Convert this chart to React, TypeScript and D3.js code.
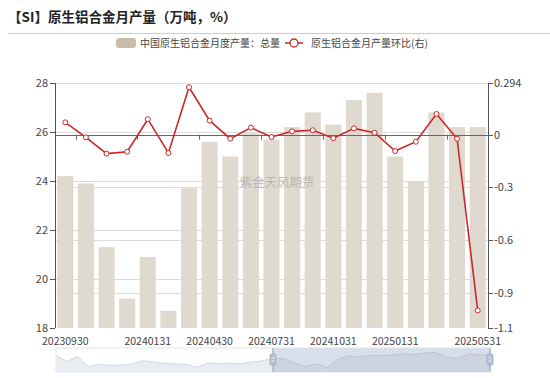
import React from "react";
import * as d3 from "d3";

const categories = [
  "20230930", "20231031", "20231130", "20231231", "20240131", "20240229", "20240331",
  "20240430", "20240531", "20240630", "20240731", "20240831", "20240930", "20241031",
  "20241130", "20241231", "20250131", "20250228", "20250331", "20250430", "20250531",
];
const outputTotal = [
  24.2, 23.9, 21.3, 19.2, 20.9, 18.7, 23.7, 25.6, 25.0, 25.95, 25.7,
  26.2, 26.8, 26.3, 27.3, 27.6, 25.0, 24.0, 26.8, 26.2, 26.2,
];
const momChange = [
  0.07, -0.015, -0.108, -0.097, 0.088, -0.104, 0.27, 0.08, -0.023, 0.04, -0.013,
  0.019, 0.025, -0.02, 0.036, 0.011, -0.093, -0.04, 0.118, -0.023, -1.0,
];
// earlier months, only visible in the zoom slider shadow
const earlierOutput = [
  25.7, 22.4, 25.1, 19.2, 20.6, 20.0, 20.2, 20.8, 22.7, 22.0,
  21.2, 20.8, 20.6, 18.8, 21.5, 21.0, 21.2, 20.8, 22.0, 22.6,
];
const leftTicks = [18, 20, 22, 24, 26, 28];
const rightTicks = [0.294, 0, -0.3, -0.6, -0.9, -1.1];
const rightGrid = [-0.3, -0.6, -0.9];
const shownLabelIdx = [0, 4, 7, 10, 13, 16, 20];
const tickBoundaryIdx = [1, 4, 7, 10, 13, 16, 19];

const FONT = "'Noto Sans CJK SC', 'Noto Sans', sans-serif";

export default function App() {
  const L = 55, R = 488, T = 83, B = 328;
  const x = d3.scaleBand<number>().domain(d3.range(categories.length)).range([L, R]).padding(0);
  const bw = x.bandwidth();
  const yL = d3.scaleLinear().domain([18, 28]).range([B, T]);
  const yR = d3.scaleLinear().domain([-1.1, 0.294]).range([B, T]);
  const cx = (i: number) => (x(i) as number) + bw / 2;
  const line = d3.line<number>().x((_, i) => cx(i)).y((d) => yR(d));

  // slider
  const full = [...earlierOutput, ...outputTotal];
  const sL = 56, sR = 490, sT = 348, sB = 372;
  const ext = d3.extent(full) as [number, number];
  const off = (ext[1] - ext[0]) * 0.3;
  const sx = d3.scaleLinear().domain([0, full.length - 1]).range([sL, sR]);
  const sy = d3.scaleLinear().domain([ext[0] - off, ext[1] + off]).range([sB, sT]);
  const selStart = earlierOutput.length;
  const area = d3.area<number>().x((_, i) => sx(i)).y0(sB).y1((d) => sy(d));
  const sline = d3.line<number>().x((_, i) => sx(i)).y((d) => sy(d));
  const leftPart = full.slice(0, selStart + 1);
  const rightPart = full.slice(selStart);
  const areaR = d3.area<number>().x((_, i) => sx(i + selStart)).y0(sB).y1((d) => sy(d));
  const slineR = d3.line<number>().x((_, i) => sx(i + selStart)).y((d) => sy(d));
  const hx = sx(selStart);

  return (
    <svg width={550} height={378} style={{ position: "absolute", left: 0, top: 0, fontFamily: FONT }}>
      <rect width={550} height={378} fill="#fff" />
      <text x={8} y={22} fontSize={13.5} fontWeight="bold" fill="#222">【SI】原生铝合金月产量（万吨，%）</text>
      <line x1={8} x2={550} y1={33.5} y2={33.5} stroke="#ccc" strokeWidth={1} />

      {/* legend */}
      <rect x={116} y={38} width={20} height={10} rx={3} fill="#c9bca8" />
      <text x={140} y={46.5} fontSize={10} fill="#444">中国原生铝合金月度产量：总量</text>
      <line x1={285} x2={303} y1={43} y2={43} stroke="#c8282a" strokeWidth={1.5} />
      <circle cx={294} cy={43} r={4} fill="#fff" stroke="#c8282a" strokeWidth={1.3} />
      <text x={311} y={46.5} fontSize={10} fill="#444">原生铝合金月产量环比(右)</text>

      {/* grid */}
      {leftTicks.filter((t) => t > 18).map((t) => (
        <line key={"gl" + t} x1={L} x2={R} y1={Math.round(yL(t)) + 0.5} y2={Math.round(yL(t)) + 0.5} stroke="#dcdcdc" />
      ))}
      {rightGrid.map((t) => (
        <line key={"gr" + t} x1={L} x2={R} y1={Math.round(yR(t)) + 0.5} y2={Math.round(yR(t)) + 0.5} stroke="#dcdcdc" />
      ))}

      {/* bars */}
      {outputTotal.map((v, i) => (
        <rect key={"b" + i} x={(x(i) as number) + bw * 0.11} width={bw * 0.78} y={yL(v)} height={B - yL(v)} fill="#e0d9cf" />
      ))}

      <text x={277} y={187} fontSize={12.5} fill="#aaa" fillOpacity={0.75} textAnchor="middle">紫金天风期货</text>

      {/* zero axis line */}
      <line x1={L} x2={R} y1={Math.round(yR(0)) + 0.5} y2={Math.round(yR(0)) + 0.5} stroke="#666" strokeWidth={1} />
      {tickBoundaryIdx.map((i) => (
        <line key={"xt" + i} x1={Math.round(x(i) as number) + 0.5} x2={Math.round(x(i) as number) + 0.5} y1={yR(0)} y2={yR(0) + 5} stroke="#666" />
      ))}

      {/* line series */}
      <path d={line(momChange) || ""} fill="none" stroke="#c8282a" strokeWidth={1.6} />
      {momChange.map((v, i) => (
        <circle key={"c" + i} cx={cx(i)} cy={yR(v)} r={2.5} fill="#fff" stroke="#c8282a" strokeWidth={1} />
      ))}

      {/* left axis */}
      <line x1={L + 0.5} x2={L + 0.5} y1={T} y2={B} stroke="#555" />
      {leftTicks.map((t) => (
        <g key={"lt" + t}>
          <line x1={L - 5} x2={L} y1={Math.round(yL(t)) + 0.5} y2={Math.round(yL(t)) + 0.5} stroke="#555" />
          <text x={L - 7} y={yL(t)} dy="0.35em" fontSize={11} fill="#444" textAnchor="end">{t}</text>
        </g>
      ))}
      {/* right axis */}
      <line x1={R + 0.5} x2={R + 0.5} y1={T} y2={B} stroke="#555" />
      {rightTicks.map((t) => (
        <g key={"rt" + t}>
          <line x1={R} x2={R + 5} y1={Math.round(yR(t)) + 0.5} y2={Math.round(yR(t)) + 0.5} stroke="#555" />
          <text x={R + 6} y={yR(t)} dy="0.35em" fontSize={11} fill="#444">{t}</text>
        </g>
      ))}
      {/* x labels */}
      {shownLabelIdx.map((i) => (
        <text key={"xl" + i} x={cx(i)} y={344.5} fontSize={10.5} fill="#444" textAnchor="middle">{categories[i]}</text>
      ))}

      {/* slider */}
      <rect x={sL} y={sT} width={sR - sL} height={sB - sT} fill="#fff" stroke="#dde3ee" />
      <path d={area(leftPart) || ""} fill="#e9ecf1" />
      <path d={sline(leftPart) || ""} fill="none" stroke="#d3d9e3" strokeWidth={1} />
      <rect x={hx} y={sT} width={sR - hx} height={sB - sT} fill="#d9dfea" />
      <path d={areaR(rightPart) || ""} fill="#c9d0dc" fillOpacity={0.8} />
      <path d={slineR(rightPart) || ""} fill="none" stroke="#bcc5d3" strokeWidth={1} />
      {[hx, sR].map((hxx, k) => (
        <g key={"h" + k}>
          <line x1={hxx} x2={hxx} y1={sT} y2={sB} stroke="#a9b6cb" strokeWidth={1.5} />
          <rect x={hxx - 3} y={sT + 6} width={6} height={11} rx={1.5} fill="#b4bfd1" stroke="#a0adc3" strokeWidth={0.8} />
          <line x1={hxx - 1.5} x2={hxx + 1.5} y1={sT + 10} y2={sT + 10} stroke="#fff" strokeWidth={0.8} />
          <line x1={hxx - 1.5} x2={hxx + 1.5} y1={sT + 13} y2={sT + 13} stroke="#fff" strokeWidth={0.8} />
        </g>
      ))}
    </svg>
  );
}
